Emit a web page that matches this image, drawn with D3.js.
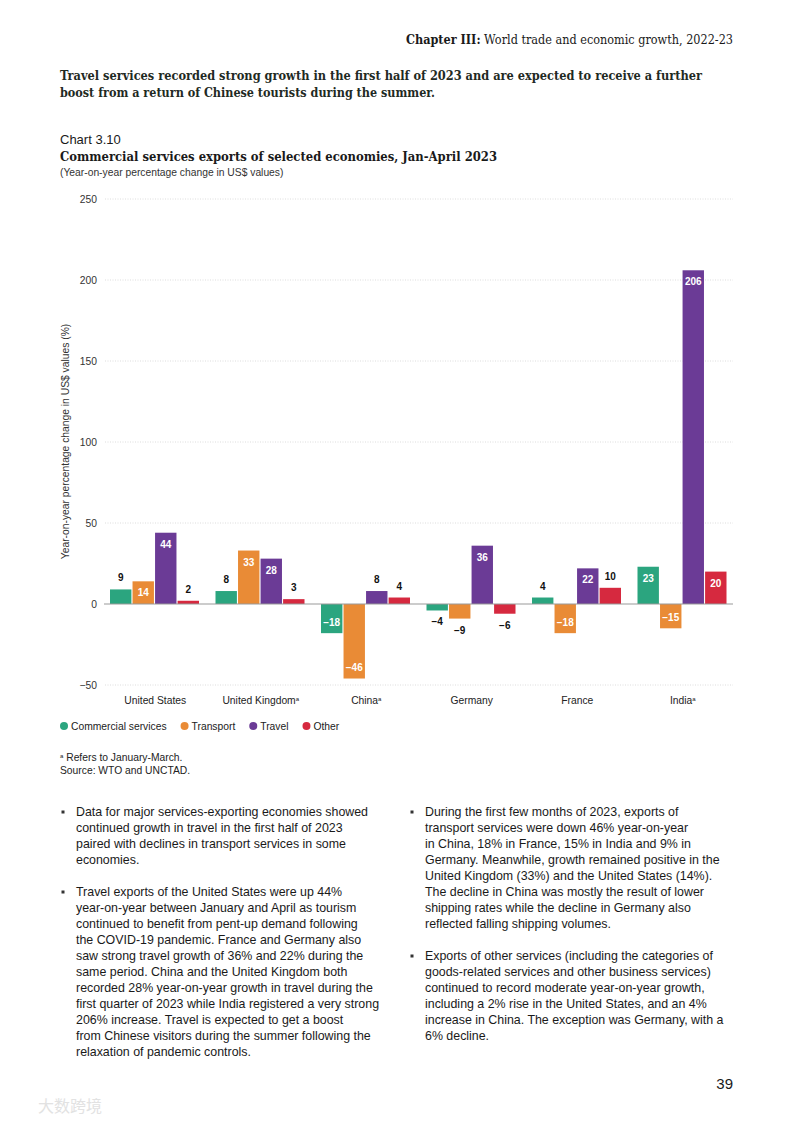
<!DOCTYPE html>
<html>
<head>
<meta charset="utf-8">
<script src="https://cdn.jsdelivr.net/npm/d3@7"></script>
<style>
  html, body { margin: 0; padding: 0; background: #fff; }
  svg { display: block; }
  .sans { font-family: "Liberation Sans", Arial, sans-serif; }
  .slab { font-family: "DejaVu Serif", serif; font-stretch: condensed; }
</style>
</head>
<body>
<svg id="page" width="793" height="1122"></svg>
<script>
// chart data
const countries = ["United States", "United Kingdom", "China", "Germany", "France", "India"];
const footnoted = ["United Kingdom", "China", "India"]; // these get the superscript a
const seriesNames = ["Commercial services", "Transport", "Travel", "Other"];
const commercial = [9, 8, -18, -4, 4, 23];
const transport = [14, 33, -46, -9, -18, -15];
const travel = [44, 28, 8, 36, 22, 206];
const other = [2, 3, 4, -6, 10, 20];
const yTicks = [-50, 0, 50, 100, 150, 200, 250];
const colors = ["#2ba57f", "#e98b36", "#6b3b96", "#d6293f"];

// page text
const leftColumn = [
  ["Data for major services-exporting economies showed",
   "continued growth in travel in the first half of 2023",
   "paired with declines in transport services in some",
   "economies."],
  ["Travel exports of the United States were up 44%",
   "year-on-year between January and April as tourism",
   "continued to benefit from pent-up demand following",
   "the COVID-19 pandemic. France and Germany also",
   "saw strong travel growth of 36% and 22% during the",
   "same period. China and the United Kingdom both",
   "recorded 28% year-on-year growth in travel during the",
   "first quarter of 2023 while India registered a very strong",
   "206% increase. Travel is expected to get a boost",
   "from Chinese visitors during the summer following the",
   "relaxation of pandemic controls."]
];
const rightColumn = [
  ["During the first few months of 2023, exports of",
   "transport services were down 46% year-on-year",
   "in China, 18% in France, 15% in India and 9% in",
   "Germany. Meanwhile, growth remained positive in the",
   "United Kingdom (33%) and the United States (14%).",
   "The decline in China was mostly the result of lower",
   "shipping rates while the decline in Germany also",
   "reflected falling shipping volumes."],
  ["Exports of other services (including the categories of",
   "goods-related services and other business services)",
   "continued to record moderate year-on-year growth,",
   "including a 2% rise in the United States, and an 4%",
   "increase in China. The exception was Germany, with a",
   "6% decline."]
];

const allSeries = [commercial, transport, travel, other];
const rows = countries.map((c, i) => ({
  country: c,
  values: seriesNames.map((s, j) => ({ series: s, value: allSeries[j][i], color: colors[j] })),
}));

const svg = d3.select("#page");
const small = 10.3; // chart text size

// ---- header ----
const chap = svg.append("text")
  .attr("class", "slab")
  .attr("x", 733).attr("y", 44)
  .attr("text-anchor", "end")
  .attr("font-size", 12.5)
  .attr("fill", "#1a1a1a")
  .attr("textLength", 327).attr("lengthAdjust", "spacingAndGlyphs");
chap.append("tspan").attr("font-weight", "bold").text("Chapter III:");
chap.append("tspan").text(" World trade and economic growth, 2022-23");

const headline = [
  { text: "Travel services recorded strong growth in the first half of 2023 and are expected to receive a further", y: 80, w: 642 },
  { text: "boost from a return of Chinese tourists during the summer.", y: 97, w: 375 },
];
svg.selectAll("text.headline")
  .data(headline)
  .join("text")
  .attr("class", "headline slab")
  .attr("x", 60).attr("y", d => d.y)
  .attr("font-size", 13)
  .attr("font-weight", "bold")
  .attr("fill", "#1f2a24")
  .attr("textLength", d => d.w).attr("lengthAdjust", "spacingAndGlyphs")
  .text(d => d.text);

svg.append("text")
  .attr("class", "sans")
  .attr("x", 60).attr("y", 144)
  .attr("font-size", 13)
  .attr("fill", "#1a1a1a")
  .text("Chart 3.10");

svg.append("text")
  .attr("class", "slab")
  .attr("x", 60).attr("y", 161)
  .attr("font-size", 13)
  .attr("font-weight", "bold")
  .attr("fill", "#1a1a1a")
  .attr("textLength", 437).attr("lengthAdjust", "spacingAndGlyphs")
  .text("Commercial services exports of selected economies, Jan-April 2023");

svg.append("text")
  .attr("class", "sans")
  .attr("x", 60).attr("y", 175.5)
  .attr("font-size", small)
  .attr("fill", "#333")
  .text("(Year-on-year percentage change in US$ values)");

// ---- chart ----
const y = d3.scaleLinear().domain([-50, 250]).range([685, 199]);
const x0 = d3.scaleBand().domain(countries).range([102, 735]);
const x1 = d3.scaleBand().domain(seriesNames).range([8, x0.bandwidth() - 8.5]).paddingInner(0.05);

// grid lines (dotted)
svg.append("g")
  .selectAll("line")
  .data(yTicks.filter(t => t !== 0))
  .join("line")
  .attr("x1", 105).attr("x2", 733)
  .attr("y1", d => y(d)).attr("y2", d => y(d))
  .attr("stroke", "#d4d4d4")
  .attr("stroke-width", 0.8)
  .attr("stroke-dasharray", "1,1.5");

// y axis tick labels via d3 axis
const yAxis = svg.append("g")
  .attr("transform", "translate(97,0)")
  .call(d3.axisLeft(y).tickValues(yTicks).tickSize(0).tickPadding(0).tickFormat(d3.format("d")));
yAxis.select(".domain").remove();
yAxis.selectAll("text")
  .attr("font-family", "Liberation Sans, Arial, sans-serif")
  .attr("font-size", small)
  .attr("fill", "#333");

// y axis title
svg.append("text")
  .attr("class", "sans")
  .attr("transform", `translate(69,${(323 + 560) / 2}) rotate(-90)`)
  .attr("text-anchor", "middle")
  .attr("font-size", small)
  .attr("fill", "#333")
  .text("Year-on-year percentage change in US$ values (%)");

// bars
const groups = svg.append("g")
  .selectAll("g.group")
  .data(rows)
  .join("g")
  .attr("class", "group")
  .attr("transform", d => `translate(${x0(d.country)},0)`);

groups.selectAll("rect")
  .data(d => d.values)
  .join("rect")
  .attr("x", d => x1(d.series))
  .attr("width", x1.bandwidth())
  .attr("y", d => y(Math.max(0, d.value)))
  .attr("height", d => Math.abs(y(d.value) - y(0)))
  .attr("fill", d => d.color);

// zero line
svg.append("line")
  .attr("x1", 104).attr("x2", 733)
  .attr("y1", y(0)).attr("y2", y(0))
  .attr("stroke", "#999")
  .attr("stroke-width", 1);

// value labels: white inside big bars, black outside small ones
const inside = v => Math.abs(v) >= 14;
groups.selectAll("text.val")
  .data(d => d.values)
  .join("text")
  .attr("class", "val sans")
  .attr("x", d => x1(d.series) + x1.bandwidth() / 2)
  .attr("y", d => {
    const end = y(d.value);
    if (inside(d.value)) return d.value > 0 ? end + 11.5 : end - 11;
    return d.value >= 0 ? end - 11.5 : end + 11.5;
  })
  .attr("dy", "0.35em")
  .attr("text-anchor", "middle")
  .attr("font-size", 10)
  .attr("font-weight", "bold")
  .attr("fill", d => inside(d.value) ? "#fff" : "#111")
  .text(d => d3.format("d")(d.value));

// x labels
const xl = svg.append("g")
  .selectAll("text")
  .data(countries)
  .join("text")
  .attr("class", "sans")
  .attr("x", d => x0(d) + x0.bandwidth() / 2 + 0.5)
  .attr("y", 704)
  .attr("text-anchor", "middle")
  .attr("font-size", small)
  .attr("fill", "#222");
xl.append("tspan").text(d => d);
xl.filter(d => footnoted.includes(d))
  .append("tspan")
  .attr("font-size", 6)
  .attr("dy", -3.5)
  .text("a");

// legend
const legend = svg.append("g").attr("transform", "translate(64,726)");
let lx = 0;
seriesNames.forEach((name, i) => {
  legend.append("circle")
    .attr("cx", lx).attr("cy", 0).attr("r", 4)
    .attr("fill", colors[i]);
  const t = legend.append("text")
    .attr("class", "sans")
    .attr("x", lx + 7).attr("y", 0)
    .attr("dy", "0.35em")
    .attr("font-size", small)
    .attr("fill", "#222")
    .text(name);
  lx += 7 + t.node().getComputedTextLength() + 18;
});

// footnotes
const fn = svg.append("text")
  .attr("class", "sans")
  .attr("x", 60).attr("y", 761)
  .attr("font-size", small)
  .attr("fill", "#222");
fn.append("tspan").attr("font-size", 6).attr("dy", -3.5).text("a");
fn.append("tspan").attr("dy", 3.5).text(" Refers to January-March.");
svg.append("text")
  .attr("class", "sans")
  .attr("x", 60).attr("y", 774)
  .attr("font-size", small)
  .attr("fill", "#222")
  .text("Source: WTO and UNCTAD.");

// ---- body text columns ----
function drawColumn(paras, bulletX, textX, startY) {
  let yy = startY;
  paras.forEach(lines => {
    svg.append("rect")
      .attr("x", bulletX - 1.5).attr("y", yy - 5.5)
      .attr("width", 3).attr("height", 3)
      .attr("fill", "#333");
    lines.forEach(line => {
      svg.append("text")
        .attr("class", "sans")
        .attr("x", textX).attr("y", yy)
        .attr("font-size", 12.4)
        .attr("fill", "#1a1a1a")
        .text(line);
      yy += 16;
    });
    yy += 16;
  });
}
drawColumn(leftColumn, 63, 76, 816);
drawColumn(rightColumn, 412, 425, 816);

// page number
svg.append("text")
  .attr("class", "sans")
  .attr("x", 733).attr("y", 1089)
  .attr("text-anchor", "end")
  .attr("font-size", 15)
  .attr("fill", "#1a1a1a")
  .text("39");

// faint watermark bottom left
svg.append("text")
  .attr("x", 38).attr("y", 1112)
  .attr("font-family", "Noto Sans CJK SC, sans-serif")
  .attr("font-size", 16)
  .attr("fill", "#e2e2e2")
  .text("大数跨境");
</script>
</body>
</html>
